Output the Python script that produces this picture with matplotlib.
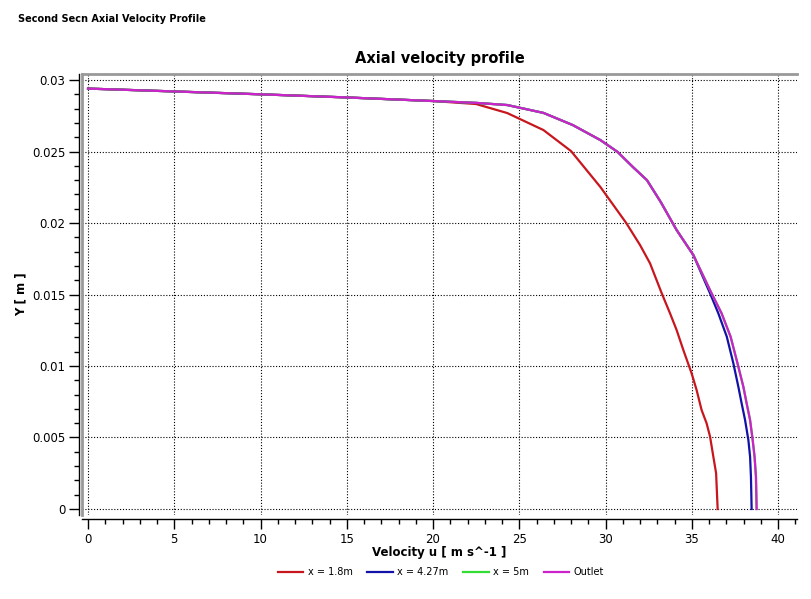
import matplotlib
matplotlib.use("Agg")
import matplotlib.pyplot as plt
from matplotlib.ticker import MultipleLocator, FixedLocator
from matplotlib.lines import Line2D

# ---- data ----
u_18 = [0, 5, 10, 15, 20, 22.5, 24.3, 26.4, 28.0, 29.7, 31.2, 32.0, 32.58, 33.26,
        33.74, 34.12, 34.51, 34.99, 35.28, 35.57, 35.86, 36.06, 36.25, 36.41, 36.5]
y_18 = [0.02940, 0.02920, 0.02900, 0.02878, 0.02853, 0.02832, 0.02769, 0.02650,
        0.02503, 0.02252, 0.02000, 0.01846, 0.01718, 0.01508, 0.01368, 0.01252,
        0.01112, 0.00949, 0.00832, 0.00692, 0.00599, 0.00506, 0.00366, 0.00250, 0.0]

u_427 = [0, 5, 10, 15, 20, 22.5, 24.3, 26.4, 28.1, 29.7, 30.7, 31.6, 32.4, 33.2,
         34.12, 35.09, 36.06, 36.54, 37.03, 37.41, 37.70, 37.89, 38.09, 38.28,
         38.38, 38.43, 38.47]
y_427 = [0.02940, 0.02920, 0.02900, 0.02878, 0.02853, 0.02840, 0.02825, 0.02770,
         0.02685, 0.02580, 0.02497, 0.02390, 0.02300, 0.02147, 0.01951, 0.01776,
         0.01508, 0.01368, 0.01205, 0.01019, 0.00855, 0.00739, 0.00622, 0.00483,
         0.00366, 0.00226, 0.0]

u_5 = [0, 5, 10, 15, 20, 22.5, 24.3, 26.4, 28.1, 29.7, 30.7, 31.6, 32.4, 33.2,
       34.12, 35.09, 36.15, 36.73, 37.25, 37.65, 37.99, 38.18, 38.38, 38.53,
       38.64, 38.72, 38.76]
y_5 = [0.02940, 0.02920, 0.02900, 0.02878, 0.02853, 0.02840, 0.02825, 0.02770,
       0.02685, 0.02580, 0.02497, 0.02390, 0.02300, 0.02147, 0.01951, 0.01776,
       0.01508, 0.01368, 0.01205, 0.01019, 0.00855, 0.00739, 0.00622, 0.00483,
       0.00366, 0.00226, 0.0]

u_out = [0, 5, 10, 15, 20, 22.5, 24.3, 26.4, 28.1, 29.7, 30.7, 31.6, 32.4, 33.2,
         34.12, 35.09, 36.15, 36.73, 37.25, 37.65, 37.99, 38.18, 38.38, 38.53,
         38.64, 38.72, 38.76]
y_out = [0.02940, 0.02920, 0.02900, 0.02878, 0.02853, 0.02840, 0.02825, 0.02770,
         0.02685, 0.02580, 0.02497, 0.02390, 0.02300, 0.02147, 0.01951, 0.01776,
         0.01508, 0.01368, 0.01205, 0.01019, 0.00855, 0.00739, 0.00622, 0.00483,
         0.00366, 0.00226, 0.0]

labels = ["x = 1.8m", "x = 4.27m", "x = 5m", "Outlet"]
colors = ["#c8161e", "#1212a8", "#33dd33", "#cc22cc"]

x_ticks = [0, 5, 10, 15, 20, 25, 30, 35, 40]
y_ticks = [0, 0.005, 0.01, 0.015, 0.02, 0.025, 0.03]
y_ticklabels = ["0", "0.005", "0.01", "0.015", "0.02", "0.025", "0.03"]

# ---- figure ----
plt.rcParams['font.family'] = ['DejaVu Sans']
W, H = 811, 599
fig = plt.figure(figsize=(W / 100, H / 100), dpi=100)
L, R, T, B = 82, 797, 74, 515
ax = fig.add_axes([L / W, 1 - B / H, (R - L) / W, (B - T) / H])

series = [(u_18, y_18), (u_427, y_427), (u_5, y_5), (u_out, y_out)]
for (u, y), lab, c in zip(series, labels, colors):
    ax.plot(u, y, color=c, lw=1.6, label=lab, solid_joinstyle='round')

ax.set_xlim(-0.35, 41.1)
ax.set_ylim(-0.00042, 0.03042)
ax.xaxis.set_major_locator(FixedLocator(x_ticks))
ax.xaxis.set_minor_locator(MultipleLocator(1))
ax.yaxis.set_major_locator(FixedLocator(y_ticks))
ax.yaxis.set_minor_locator(MultipleLocator(0.001))
ax.set_yticklabels(y_ticklabels)
ax.set_xticklabels([str(v) for v in x_ticks])

ax.grid(True, which='major', color='black', linestyle=(0, (1, 1.6)), linewidth=0.8)

ax.spines['right'].set_visible(False)
ax.spines['top'].set_color('#999999')
ax.spines['top'].set_linewidth(2)
ax.spines['left'].set_color('black')
ax.spines['left'].set_linewidth(1)
ax.spines['left'].set_position(('outward', 2))
ax.spines['bottom'].set_color('black')
ax.spines['bottom'].set_linewidth(1)
ax.spines['bottom'].set_position(('outward', 3))
# gray frame line at the left edge of the plot area
ax.add_line(Line2D([0, 0], [0, 1], transform=ax.transAxes, color='#999999',
                   lw=2, clip_on=False))

ax.tick_params(axis='both', which='major', direction='out', length=7, width=1,
               labelsize=8.5, colors='black')
ax.tick_params(axis='both', which='minor', direction='out', length=3.5, width=1)
ax.tick_params(axis='y', pad=3)
ax.tick_params(axis='x', pad=3)

ax.set_xlabel("Velocity u [ m s^-1 ]", fontsize=8.5, fontweight='bold', labelpad=0)
ax.set_ylabel("Y [ m ]", fontsize=8.5, fontweight='bold', labelpad=3)
ax.set_title("Axial velocity profile", fontsize=10.5, fontweight='bold', pad=8)

fig.text(18 / W, 1 - 19 / H, "Second Secn Axial Velocity Profile", fontsize=7,
         fontweight='bold', ha='left', va='center')

fig.legend(loc='center', bbox_to_anchor=(441 / W, 1 - 572 / H), ncol=4,
           frameon=False, fontsize=7, handlelength=2.6, columnspacing=1.5,
           handletextpad=0.5)

fig.savefig("out.png", dpi=100)
